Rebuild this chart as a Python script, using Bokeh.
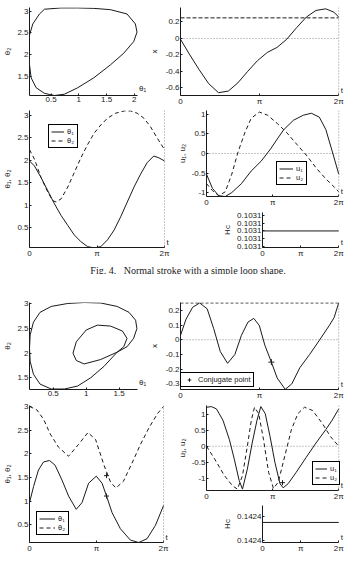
import numpy as np
from bokeh.plotting import figure
from bokeh.layouts import column, row
from bokeh.models import (Range1d, FixedTicker, CustomJSTickFormatter, Label,
                          Legend, LegendItem, Span, GridBox, Spacer)
from bokeh.embed import file_html
from bokeh.resources import INLINE

TWO_PI = 2 * np.pi

# ---------------- Fig. 4 data ----------------
loop4_theta1 = [0.38, 0.68, 0.98, 1.27, 1.57, 1.87, 2.02, 2.05, 1.99, 1.81, 1.57, 1.27,
                0.98, 0.74, 0.56, 0.38, 0.23, 0.14, 0.11, 0.11, 0.11, 0.17, 0.29, 0.38]
loop4_theta2 = [3.05, 3.08, 3.08, 3.07, 3.04, 2.94, 2.71, 2.52, 2.30, 2.03, 1.76, 1.46,
                1.23, 1.08, 1.05, 1.10, 1.23, 1.46, 1.76, 2.14, 2.45, 2.71, 2.94, 3.05]

t4_x = [0, 0.35, 0.74, 1.12, 1.51, 1.90, 2.28, 2.67, 3.06, 3.45, 3.83, 4.22, 4.61, 5.0,
        5.38, 5.77, 6.09, 6.2832]
x4 = [-0.01, -0.19, -0.38, -0.55, -0.66, -0.64, -0.54, -0.40, -0.27, -0.17, -0.11, -0.01,
      0.13, 0.26, 0.34, 0.36, 0.32, 0.26]
x4_limit = 0.25

t4_th1 = [0, 0.23, 0.54, 0.85, 1.16, 1.47, 1.78, 2.08, 2.39, 2.70, 3.01, 3.32, 3.63, 3.94,
          4.24, 4.55, 4.86, 5.17, 5.47, 5.78, 6.02, 6.2832]
th1_4 = [1.98, 1.87, 1.61, 1.32, 1.03, 0.77, 0.55, 0.34, 0.19, 0.08, 0.05, 0.08, 0.23, 0.45,
         0.74, 1.07, 1.40, 1.69, 1.94, 2.09, 2.05, 1.98]
t4_th2 = [0, 0.23, 0.54, 0.85, 1.08, 1.24, 1.47, 1.78, 2.08, 2.39, 2.70, 3.01, 3.32, 3.63,
          4.01, 4.40, 4.70, 5.01, 5.32, 5.63, 5.94, 6.2832]
th2_4 = [2.23, 2.02, 1.61, 1.29, 1.10, 1.07, 1.14, 1.40, 1.72, 2.05, 2.34, 2.60, 2.78, 2.93,
         3.04, 3.09, 3.09, 3.04, 2.93, 2.74, 2.49, 2.23]

t4_u1 = [0, 0.28, 0.58, 0.89, 1.2, 1.66, 2.12, 2.59, 3.05, 3.36, 3.67, 4.13, 4.6, 4.98,
         5.36, 5.67, 5.98, 6.2832]
u1_4 = [-0.53, -0.89, -1.08, -1.1, -1.0, -0.77, -0.45, -0.2, 0.12, 0.37, 0.61, 0.85, 0.98,
        1.03, 0.93, 0.61, 0.04, -0.53]
t4_u2 = [0, 0.28, 0.58, 0.89, 1.2, 1.5, 1.82, 2.12, 2.51, 2.9, 3.36, 3.82, 4.28, 4.74,
         5.21, 5.67, 5.98, 6.2832]
u2_4 = [-0.77, -0.95, -1.08, -0.98, -0.53, 0.04, 0.53, 0.9, 1.06, 0.98, 0.77, 0.53, 0.24,
        -0.04, -0.37, -0.65, -0.81, -0.98]

t4_h = [0, 6.2832]
h4 = [0.1031, 0.1031]
h4_ticks = [0.10309, 0.103095, 0.1031, 0.103105, 0.10311]

# ---------------- Fig. 5 data ----------------
loop5_theta1 = [0.97, 1.22, 1.47, 1.65, 1.75, 1.77, 1.72, 1.62, 1.47, 1.22, 0.97, 0.85,
                0.80, 0.85, 1.00, 1.17, 1.37, 1.55, 1.62, 1.57, 1.47, 1.27, 1.07, 0.87,
                0.67, 0.47, 0.30, 0.20, 0.15, 0.14, 0.15, 0.20, 0.30, 0.47, 0.72, 0.97]
loop5_theta2 = [3.03, 3.02, 2.95, 2.83, 2.67, 2.50, 2.30, 2.13, 2.02, 1.87, 1.78, 1.85,
                2.00, 2.23, 2.47, 2.57, 2.55, 2.45, 2.30, 2.13, 2.02, 1.73, 1.50, 1.33,
                1.27, 1.27, 1.37, 1.57, 1.83, 2.10, 2.37, 2.63, 2.83, 2.95, 3.01, 3.03]

t5_x = [0, 0.22, 0.48, 0.76, 1.06, 1.32, 1.58, 1.87, 2.16, 2.42, 2.68, 2.91, 3.13, 3.35,
        3.61, 3.84, 4.16, 4.42, 4.74, 5.13, 5.52, 5.91, 6.10, 6.2832]
x5 = [0.03, 0.14, 0.22, 0.25, 0.21, 0.075, -0.08, -0.16, -0.10, 0.03, 0.12, 0.145, 0.097,
      -0.037, -0.152, -0.26, -0.337, -0.30, -0.19, -0.10, -0.003, 0.097, 0.15, 0.25]
x5_limit = 0.25

t5_th1 = [0, 0.19, 0.42, 0.66, 0.94, 1.2, 1.52, 1.83, 2.19, 2.46, 2.77, 3.13, 3.40, 3.61,
          3.87, 4.26, 4.73, 5.12, 5.51, 5.90, 6.2832]
th1_5 = [0.97, 1.31, 1.66, 1.83, 1.86, 1.76, 1.45, 1.11, 0.83, 0.97, 1.38, 1.53, 1.38, 1.11,
         0.76, 0.42, 0.18, 0.13, 0.21, 0.49, 0.91]
t5_th2 = [0, 0.34, 0.66, 0.97, 1.36, 1.83, 2.3, 2.74, 3.1, 3.5, 3.8, 4.05, 4.4, 4.8, 5.2,
          5.6, 6.0, 6.2832]
th2_5 = [3.0, 2.93, 2.73, 2.42, 2.14, 1.95, 2.2, 2.45, 2.3, 1.75, 1.4, 1.28, 1.42, 1.8, 2.2,
         2.55, 2.85, 3.0]

t5_u1 = [0, 0.23, 0.47, 0.78, 1.09, 1.32, 1.55, 1.71, 1.94, 2.17, 2.40, 2.58, 2.79, 3.02,
         3.25, 3.49, 3.64, 3.88, 4.26, 4.73, 5.20, 5.66, 5.97, 6.2832]
u1_5 = [1.21, 1.23, 1.16, 0.81, 0.2, -0.40, -1.06, -1.33, -0.71, 0.10, 0.81, 1.23, 1.01,
        0.30, -0.50, -1.16, -1.29, -1.16, -0.81, -0.35, 0.10, 0.51, 0.81, 1.16]
t5_u2 = [0, 0.39, 0.85, 1.24, 1.47, 1.71, 1.94, 2.13, 2.28, 2.48, 2.71, 2.95, 3.18, 3.41,
         3.72, 4.03, 4.34, 4.65, 5.04, 5.50, 5.89, 6.2832]
u2_5 = [0, -0.40, -0.91, -1.23, -1.33, -0.91, 0, 0.81, 1.21, 1.01, 0.2, -0.81, -1.31, -1.11,
        -0.30, 0.51, 1.01, 1.21, 1.11, 0.71, 0.30, 0]

t5_h = [0, 6.2832]
h5 = [0.1424, 0.1424]
h5_ticks = [0.142385, 0.142405]

conj_t = [3.61]
conj_x5 = [-0.152]
conj_th1 = [1.11]
conj_th2 = [1.54]
conj_u1 = [-1.13]

# ---------------- styling helpers ----------------
FONT = "Liberation Sans"
INK = "#1a1a1a"
T_TICKS = [0, np.pi, 2 * np.pi]

NUM = CustomJSTickFormatter(code="return String(Math.round(tick*10000)/10000);")
TFMT = CustomJSTickFormatter(code="""
const r = tick / Math.PI;
if (Math.abs(r) < 1e-6) return "0";
if (Math.abs(r - 1) < 1e-6) return "\u03c0";
return "2\u03c0";
""")
HFMT = CustomJSTickFormatter(code="return tick.toFixed(4);")


def ext(lo, hi, px_lo, px_hi, px_new):
    """extend a range so that the frame reaches px_new while hi stays at px_hi"""
    return hi + (hi - lo) * (px_new - px_hi) / (px_hi - px_lo)


def base(width, height, left, right, top, bottom, xr, yr, xticks, yticks, xfmt, yfmt,
         xbounds, label_standoff=2):
    p = figure(width=width, height=height, x_range=Range1d(*xr), y_range=Range1d(*yr),
               output_backend="svg", toolbar_location=None, title=None,
               min_border_left=left, min_border_right=right,
               min_border_top=top, min_border_bottom=bottom)
    p.outline_line_color = None
    p.xgrid.visible = False
    p.ygrid.visible = False
    p.background_fill_color = "white"
    p.border_fill_color = "white"
    p.xaxis.ticker = FixedTicker(ticks=xticks)
    p.yaxis.ticker = FixedTicker(ticks=yticks)
    p.xaxis.formatter = xfmt
    p.yaxis.formatter = yfmt
    p.xaxis.bounds = xbounds
    for ax in (p.xaxis[0], p.yaxis[0]):
        ax.axis_line_color = INK
        ax.axis_line_width = 1
        ax.major_tick_in = 2
        ax.major_tick_out = 0
        ax.minor_tick_in = 0
        ax.minor_tick_out = 0
        ax.major_tick_line_color = INK
        ax.major_label_text_font = FONT
        ax.major_label_text_font_size = "8px"
        ax.major_label_text_color = INK
        ax.major_label_standoff = 1
        ax.axis_label_text_font = FONT
        ax.axis_label_text_font_size = "8px"
        ax.axis_label_text_font_style = "normal"
        ax.axis_label_text_color = INK
        ax.axis_label_standoff = label_standoff
    return p


def txt(p, x, y, text, dx=0, dy=0, size="8px"):
    p.add_layout(Label(x=x, y=y, x_offset=dx, y_offset=dy, text=text, text_font=FONT,
                       text_font_size=size, text_color=INK, text_align="left",
                       text_baseline="bottom"))


def hline(p, ts, level, dash, color):
    p.line([ts[0], ts[-1]], [level, level], line_color=color, line_dash=dash, line_width=1)


def vdotted(p, loc):
    p.add_layout(Span(location=loc, dimension="height", line_color="#8a8a8a",
                      line_dash="1 2", line_width=1))


def legend(p, items, loc, gw=14, lw=8):
    lg = Legend(items=[LegendItem(label=l, renderers=[r]) for l, r in items], location=loc,
                border_line_color="black", border_line_width=1.2, border_line_alpha=1,
                background_fill_color="white", background_fill_alpha=1,
                padding=2, spacing=0, margin=0, glyph_width=gw, glyph_height=9,
                label_height=9, label_width=lw, label_standoff=3, label_text_font=FONT,
                label_text_font_size="7.5px", label_text_color=INK)
    p.add_layout(lg)


def caption(height, text, base_y):
    c = figure(width=350, height=height, x_range=Range1d(0, 1), y_range=Range1d(0, height),
               output_backend="svg", toolbar_location=None, title=None,
               x_axis_type=None, y_axis_type=None, min_border=0)
    c.outline_line_color = None
    c.xgrid.visible = False
    c.ygrid.visible = False
    c.add_layout(Label(x=0.5, y=base_y, text=text, text_font="Liberation Serif",
                       text_font_size="10px", text_color=INK, text_align="center",
                       text_baseline="alphabetic"))
    return c


LW = 1.0
DOT = "#8a8a8a"
T_BOUNDS = (0, TWO_PI)
RIGHT = 346  # frame right edge (px) of the right-hand t-panels, room for the "t" label

# grid columns (px): 0-146 | 146-174 | 174-220 | 220-350
C0, C1, C2, C3 = 146, 28, 46, 130

# ---------------- Fig. 4 ----------------
p4a = base(C0, 108, 28, 0, 7, 10, (0.11, ext(0.11, 2.06, 28, 137, 146)), (1.05, 3.09),
           [0.5, 1, 1.5, 2], [1.5, 2, 2.5, 3], NUM, NUM, (0.11, 2.06))
p4a.line(loop4_theta1, loop4_theta2, line_color=INK, line_width=LW)
p4a.yaxis.axis_label = "θ₂"
txt(p4a, 2.06, 1.05, "θ₁", dx=1.5, dy=3)

p4b = base(C1 + C2 + C3, 108, 30, 350 - RIGHT, 7, 10, (0, ext(0, TWO_PI, 176, 338, RIGHT)),
           (-0.694, 0.376), T_TICKS, [-0.6, -0.4, -0.2, 0, 0.2], TFMT, NUM, T_BOUNDS, 4)
hline(p4b, t4_x, 0, "1 2", DOT)
vdotted(p4b, TWO_PI)
hline(p4b, t4_x, x4_limit, "4 2", INK)
p4b.line(t4_x, x4, line_color=INK, line_width=LW)
p4b.yaxis.axis_label = "x"
txt(p4b, TWO_PI, -0.694, "t", dx=2, dy=1)

p4c = base(C0 + C1, 152, 28, 1, 2, 11, (0, ext(0, TWO_PI, 28, 164, 173)), (0.06, 3.1),
           T_TICKS, [0.5, 1, 1.5, 2, 2.5, 3], TFMT, NUM, T_BOUNDS)
vdotted(p4c, TWO_PI)
r1 = p4c.line(t4_th1, th1_4, line_color=INK, line_width=LW)
r2 = p4c.line(t4_th2, th2_4, line_color=INK, line_width=LW, line_dash="4 3")
p4c.yaxis.axis_label = "θ₁, θ₂"
txt(p4c, TWO_PI, 0.06, "t", dx=2, dy=1)
legend(p4c, [("θ₁", r1), ("θ₂", r2)], (19, 99), gw=13)

p4d = base(C2 + C3, 101, 27, 350 - RIGHT, 0, 11, (0, ext(0, TWO_PI, 201, 338, RIGHT)),
           (-1.10, 1.10), T_TICKS, [-1, -0.5, 0, 0.5, 1], TFMT, NUM, T_BOUNDS)
hline(p4d, t4_u1, 0, "1 2", DOT)
vdotted(p4d, TWO_PI)
s1 = p4d.line(t4_u1, u1_4, line_color=INK, line_width=LW)
s2 = p4d.line(t4_u2, u2_4, line_color=INK, line_width=LW, line_dash="4 3")
p4d.yaxis.axis_label = "u₁, u₂"
txt(p4d, TWO_PI, -1.10, "t", dx=2, dy=1)
legend(p4d, [("u₁", s1), ("u₂", s2)], (70, 11))

H4R = (0.10308939, 0.10311182)
p4e = base(C3, 51, 39, 350 - RIGHT, 3, 11, (0, ext(0, TWO_PI, 259, 338, RIGHT)), H4R,
           T_TICKS, h4_ticks, TFMT, HFMT, T_BOUNDS)
p4e.line(t4_h, h4, line_color=INK, line_width=LW)
p4e.yaxis.axis_label = "Hc"
txt(p4e, TWO_PI, H4R[0], "t", dx=2, dy=1)

cap4 = caption(14, "Fig. 4.\u00a0\u00a0\u00a0Normal stroke with a simple loop shape.", 4.5)

# ---------------- Fig. 5 ----------------
p5a = base(C0, 128, 28, 0, 28, 12, (0.14, ext(0.14, 1.78, 28, 137, 146)), (1.26, 3.03),
           [0.5, 1, 1.5], [1.5, 2, 2.5, 3], NUM, NUM, (0.14, 1.78))
p5a.line(loop5_theta1, loop5_theta2, line_color=INK, line_width=LW)
p5a.yaxis.axis_label = "θ₂"
txt(p5a, 1.78, 1.26, "θ₁", dx=1.5, dy=3)

p5b = base(C1 + C2 + C3, 128, 30, 350 - RIGHT, 28, 12, (0, ext(0, TWO_PI, 176, 338, RIGHT)),
           (-0.338, 0.253), T_TICKS, [-0.3, -0.2, -0.1, 0, 0.1, 0.2], TFMT, NUM, T_BOUNDS, 4)
hline(p5b, t5_x, 0, "1 2", DOT)
vdotted(p5b, TWO_PI)
hline(p5b, t5_x, x5_limit, "3 2", INK)
p5b.line(t5_x, x5, line_color=INK, line_width=LW)
rc = p5b.scatter(conj_t, conj_x5, marker="cross", size=6, line_color=INK, line_width=1)
p5b.yaxis.axis_label = "x"
txt(p5b, TWO_PI, -0.338, "t", dx=2, dy=1)
legend(p5b, [("Conjugate point", rc)], (0, 2), gw=12, lw=20)

p5c = base(C0 + C1, 153, 28, 1, 2, 12, (0, ext(0, TWO_PI, 28, 163, 173)), (0.13, 3.02),
           T_TICKS, [0.5, 1, 1.5, 2, 2.5, 3], TFMT, NUM, T_BOUNDS)
vdotted(p5c, TWO_PI)
q1 = p5c.line(t5_th1, th1_5, line_color=INK, line_width=LW)
q2 = p5c.line(t5_th2, th2_5, line_color=INK, line_width=LW, line_dash="4 3")
p5c.scatter(conj_t, conj_th1, marker="cross", size=5, line_color=INK)
p5c.scatter(conj_t, conj_th2, marker="cross", size=5, line_color=INK)
p5c.yaxis.axis_label = "θ₁, θ₂"
txt(p5c, TWO_PI, 0.13, "t", dx=2, dy=1)
legend(p5c, [("θ₁", q1), ("θ₂", q2)], (7, 7), gw=16)

p5d = base(C2 + C3, 101, 27, 350 - RIGHT, 3, 11, (0, ext(0, TWO_PI, 201, 338, RIGHT)),
           (-1.373, 1.264), T_TICKS, [-1, -0.5, 0, 0.5, 1], TFMT, NUM, T_BOUNDS)
hline(p5d, t5_u2, 0, "1 2", DOT)
vdotted(p5d, TWO_PI)
v1 = p5d.line(t5_u1, u1_5, line_color=INK, line_width=LW)
v2 = p5d.line(t5_u2, u2_5, line_color=INK, line_width=LW, line_dash="4 3")
p5d.scatter(conj_t, conj_u1, marker="cross", size=5, line_color=INK)
p5d.yaxis.axis_label = "u₁, u₂"
txt(p5d, TWO_PI, -1.373, "t", dx=2, dy=1)
legend(p5d, [("u₁", v1), ("u₂", v2)], (106, 5), gw=12, lw=6)

H5R = (0.14238352, 0.14241389)
p5e = base(C3, 52, 39, 350 - RIGHT, 2, 11, (0, ext(0, TWO_PI, 259, 338, RIGHT)), H5R,
           T_TICKS, h5_ticks, TFMT, HFMT, T_BOUNDS)
p5e.line(t5_h, h5, line_color=INK, line_width=LW)
p5e.yaxis.axis_label = "Hc"
txt(p5e, TWO_PI, H5R[0], "t", dx=2, dy=1)

cap5 = caption(6, "Fig. 5.\u00a0\u00a0\u00a0Normal stroke with a limaçon with inner loop shape.", -2)

children = [
    (p4a, 0, 0, 1, 1), (p4b, 0, 1, 1, 3),
    (p4c, 1, 0, 2, 2), (p4d, 1, 2, 1, 2), (p4e, 2, 3, 1, 1),
    (cap4, 3, 0, 1, 4),
    (p5a, 4, 0, 1, 1), (p5b, 4, 1, 1, 3),
    (p5c, 5, 0, 2, 2), (p5d, 5, 2, 1, 2), (p5e, 6, 3, 1, 1),
    (cap5, 7, 0, 1, 4),
]
try:
    layout = GridBox(children=children, spacing=0,
                     cols=[f"{C0}px", f"{C1}px", f"{C2}px", f"{C3}px"],
                     rows=["108px", "101px", "51px", "14px", "128px", "101px", "52px", "6px"])
except Exception:
    layout = column(
        row(p4a, p4b),
        row(p4c, column(p4d, row(Spacer(width=C2, height=51), p4e))),
        cap4,
        row(p5a, p5b),
        row(p5c, column(p5d, row(Spacer(width=C2, height=52), p5e))),
        cap5,
    )

open("out.html", "w").write(file_html(layout, INLINE))
